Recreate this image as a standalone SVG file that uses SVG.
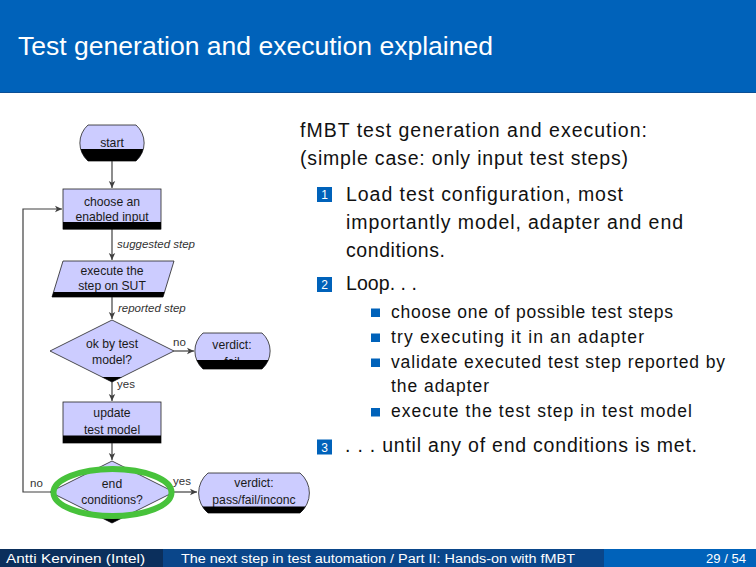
<svg xmlns="http://www.w3.org/2000/svg" width="756" height="567" viewBox="0 0 756 567">
<style>
.node{fill:#ccccff;stroke:#222;stroke-width:0.8}
.band{fill:#000}
.nt{font-family:"Liberation Sans",Arial,sans-serif;font-size:12.2px;fill:#1a1a1a;text-anchor:middle}
.el{font-family:"Liberation Sans",Arial,sans-serif;font-size:11.5px;fill:#333}
.it{font-style:italic}
.conn{fill:none;stroke:#404040;stroke-width:1.2}
.main{font-family:"Liberation Sans",Arial,sans-serif;font-size:19.5px;fill:#111}
.sub{font-family:"Liberation Sans",Arial,sans-serif;font-size:17.5px;fill:#111}
.num{fill:#0062ba}
.numt{font-family:"Liberation Sans",Arial,sans-serif;font-size:12px;fill:#fff;text-anchor:middle}
.ft{font-family:"Liberation Sans",Arial,sans-serif;font-size:12.5px;fill:#fff}
</style>
<defs>
<marker id="ah" markerWidth="8" markerHeight="8" refX="7" refY="4" orient="auto" markerUnits="userSpaceOnUse">
<path d="M0,0.8 L7,4 L0,7.2 L1.8,4 Z" fill="#404040"/>
</marker>
<path id="s-start" d="M88,125 H136 A24,24 0 0 1 136,161 H88 A24,24 0 0 1 88,125 Z"/>
<path id="s-exec" d="M63,261 H174 L163,297 H52 Z"/>
<path id="s-ok" d="M112,320 L174,351 L112,382 L50,351 Z"/>
<path id="s-fail" d="M203,333 H262 A24,24 0 0 1 262,369 H203 A24,24 0 0 1 203,333 Z"/>
<path id="s-end" d="M112,461 L174,492 L112,523 L50,492 Z"/>
<path id="s-pass" d="M208,473 H300 A26,26 0 0 1 300,513 H208 A26,26 0 0 1 208,473 Z"/>
<clipPath id="c-start"><use href="#s-start"/></clipPath>
<clipPath id="c-exec"><use href="#s-exec"/></clipPath>
<clipPath id="c-ok"><use href="#s-ok"/></clipPath>
<clipPath id="c-fail"><use href="#s-fail"/></clipPath>
<clipPath id="c-end"><use href="#s-end"/></clipPath>
<clipPath id="c-pass"><use href="#s-pass"/></clipPath>
</defs>

<rect x="0" y="0" width="756" height="567" fill="#fff"/>
<g id="header">
<rect x="0" y="0" width="756" height="93" fill="#0062ba"/>
<rect x="0" y="92" width="756" height="1" fill="#0a4f96"/>
<text x="18" y="55" font-family="'Liberation Sans',Arial,sans-serif" font-size="26" fill="#fff" textLength="475" lengthAdjust="spacingAndGlyphs">Test generation and execution explained</text>
</g>

<g id="connectors">
<line class="conn" x1="112" y1="161" x2="112" y2="188" marker-end="url(#ah)"/>
<line class="conn" x1="112" y1="229" x2="112" y2="260" marker-end="url(#ah)"/>
<text class="el it" x="117" y="248">suggested step</text>
<line class="conn" x1="112" y1="297" x2="112" y2="319" marker-end="url(#ah)"/>
<text class="el it" x="118" y="312">reported step</text>
<line class="conn" x1="174" y1="351" x2="194" y2="351" marker-end="url(#ah)"/>
<text class="el" x="173" y="346">no</text>
<line class="conn" x1="112" y1="382" x2="112" y2="401" marker-end="url(#ah)"/>
<text class="el" x="117" y="388">yes</text>
<line class="conn" x1="112" y1="443" x2="112" y2="460" marker-end="url(#ah)"/>
<line class="conn" x1="174" y1="492" x2="197" y2="492" marker-end="url(#ah)"/>
<text class="el" x="173" y="485">yes</text>
<polyline class="conn" points="50,492 23,492 23,209 62,209" marker-end="url(#ah)"/>
<text class="el" x="30" y="487">no</text>
</g>

<g id="n-start">
<use href="#s-start" class="node"/>
<text class="nt" x="112" y="147">start</text>
<rect class="band" x="70" y="149" width="90" height="14" clip-path="url(#c-start)"/>
</g>
<g id="n-choose">
<rect class="node" x="63" y="189" width="98" height="40"/>
<text class="nt" x="112" y="206">choose an</text>
<text class="nt" x="112" y="221">enabled input</text>
<rect class="band" x="63" y="222" width="98" height="7.4"/>
</g>
<g id="n-exec">
<use href="#s-exec" class="node"/>
<text class="nt" x="112" y="275">execute the</text>
<text class="nt" x="112" y="290">step on SUT</text>
<rect class="band" x="45" y="292" width="135" height="7" clip-path="url(#c-exec)"/>
</g>
<g id="n-ok">
<use href="#s-ok" class="node"/>
<text class="nt" x="112" y="348">ok by test</text>
<text class="nt" x="112" y="364">model?</text>
<rect class="band" x="45" y="377" width="135" height="7" clip-path="url(#c-ok)"/>
</g>
<g id="n-fail">
<use href="#s-fail" class="node"/>
<text class="nt" x="232" y="349">verdict:</text>
<text class="nt" x="232" y="366">fail</text>
<rect class="band" x="185" y="360" width="95" height="10" clip-path="url(#c-fail)"/>
</g>
<g id="n-update">
<rect class="node" x="63" y="402" width="98" height="41"/>
<text class="nt" x="112" y="417">update</text>
<text class="nt" x="112" y="434">test model</text>
<rect class="band" x="63" y="435.5" width="98" height="7.5"/>
</g>
<g id="n-end">
<use href="#s-end" class="node"/>
<text class="nt" x="112" y="488">end</text>
<text class="nt" x="112" y="504">conditions?</text>
<rect class="band" x="45" y="518" width="135" height="7" clip-path="url(#c-end)"/>
<ellipse cx="112.5" cy="492.5" rx="59" ry="23.5" fill="none" stroke="#47c23b" stroke-width="6"/>
</g>
<g id="n-pass">
<use href="#s-pass" class="node"/>
<text class="nt" x="254" y="487">verdict:</text>
<text class="nt" x="254" y="504">pass/fail/inconc</text>
<rect class="band" x="190" y="506.5" width="130" height="8" clip-path="url(#c-pass)"/>
</g>

<g id="text-column">
<text class="main" x="300" y="137" textLength="347">fMBT test generation and execution:</text>
<text class="main" x="300" y="165" textLength="328">(simple case: only input test steps)</text>
<rect class="num" x="317" y="187" width="15" height="15"/>
<text class="numt" x="324.5" y="199">1</text>
<text class="main" x="346" y="201" textLength="277">Load test configuration, most</text>
<text class="main" x="346" y="229" textLength="337">importantly model, adapter and end</text>
<text class="main" x="346" y="257" textLength="99">conditions.</text>
<rect class="num" x="317" y="277" width="15" height="15"/>
<text class="numt" x="324.5" y="289">2</text>
<text class="main" x="346" y="290" textLength="71">Loop. . .</text>
<rect class="num" x="371" y="308.5" width="9" height="8.5"/>
<text class="sub" x="391" y="317.5" textLength="282">choose one of possible test steps</text>
<rect class="num" x="371" y="333.5" width="9" height="8.5"/>
<text class="sub" x="391" y="342.5" textLength="253">try executing it in an adapter</text>
<rect class="num" x="371" y="358.5" width="9" height="8.5"/>
<text class="sub" x="391" y="367.5" textLength="334">validate executed test step reported by</text>
<text class="sub" x="391" y="392" textLength="98">the adapter</text>
<rect class="num" x="371" y="408" width="9" height="8.5"/>
<text class="sub" x="391" y="417" textLength="301">execute the test step in test model</text>
<rect class="num" x="317" y="439.5" width="15" height="15"/>
<text class="numt" x="324.5" y="451.5">3</text>
<text class="main" x="345" y="452" textLength="352">. . . until any of end conditions is met.</text>
</g>

<g id="footer">
<rect x="0" y="549" width="163" height="18" fill="#0b2f5c"/>
<rect x="163" y="549" width="441" height="18" fill="#0a468a"/>
<rect x="604" y="549" width="152" height="18" fill="#0062ba"/>
<text class="ft" x="6" y="562.5" textLength="139" lengthAdjust="spacingAndGlyphs">Antti Kervinen (Intel)</text>
<text class="ft" x="181" y="562.5" textLength="394" lengthAdjust="spacingAndGlyphs">The next step in test automation / Part II: Hands-on with fMBT</text>
<text class="ft" x="706" y="562.5" textLength="40" lengthAdjust="spacingAndGlyphs">29 / 54</text>
</g>
</svg>
